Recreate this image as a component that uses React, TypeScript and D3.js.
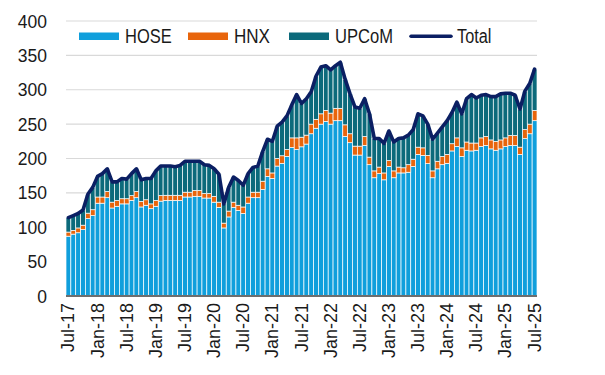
import React from "react";
import * as d3 from "d3";

const W = 605;
const H = 375;

// Monthly categories Jul-17 .. Jul-25
const categories: string[] = d3
  .timeMonth.range(new Date(2017, 6, 1), new Date(2025, 7, 1))
  .map((d) => d3.timeFormat("%b-%y")(d));

const tickLabels = [
  "Jul-17", "Jan-18", "Jul-18", "Jan-19", "Jul-19", "Jan-20", "Jul-20", "Jan-21", "Jul-21",
  "Jan-22", "Jul-22", "Jan-23", "Jul-23", "Jan-24", "Jul-24", "Jan-25", "Jul-25",
];

const yTicks = [0, 50, 100, 150, 200, 250, 300, 350, 400];

const hose = [
  87, 90, 92, 96.5, 112.5, 117, 135, 135, 143, 128, 130.5, 134, 134, 139, 143, 129.5, 132, 127, 130.5, 138,
  139, 139, 139, 139, 144, 144, 145, 145, 142.5, 142.5, 136.5, 129, 99, 115, 129, 124.5, 120, 135, 143, 143,
  155, 174, 171, 189, 193, 203, 216, 213, 217, 221, 236, 244, 250, 254, 250, 255, 255, 232, 223, 205,
  205, 219, 191, 172, 178, 169, 188.5, 172, 179, 179, 180, 188.5, 206, 204.5, 192.5, 172, 185, 191, 193, 211,
  217.5, 203, 212, 211, 212, 217.5, 219, 214, 212, 214, 217.5, 219, 219, 206, 229, 236, 255,
];

const hnx = [
  6, 5.5, 7, 6.5, 8, 8.5, 9, 9, 9, 8.5, 8.5, 7.5, 7.5, 7, 9, 8, 8, 7, 8.5, 8,
  7.5, 7.5, 7.5, 7.5, 7, 7, 8.5, 8.5, 6.5, 6.5, 8.5, 7.5, 7, 8.5, 7.5, 7.5, 9.5, 9, 8, 8,
  12, 11, 8, 11, 11, 10, 14, 17, 14, 13, 14, 13, 15, 16, 16, 18, 18, 17, 13, 13,
  13, 13, 11, 10, 9.5, 10, 8.5, 10, 8.5, 7.5, 11, 10.5, 10.5, 11, 12, 10, 11, 12, 13, 10.5,
  12.5, 12.5, 12, 11.5, 10.5, 12.5, 13, 13, 13, 13, 12.5, 14.5, 14.5, 10.5, 13, 14, 15,
];

const upcom = [
  21, 21.5, 21, 22, 27.5, 32.5, 30, 34, 33, 29.5, 27, 29.5, 28.5, 32, 33, 31.5, 31, 37, 43, 43,
  42.5, 42.5, 41.5, 43.5, 45, 45, 42.5, 42.5, 42, 41, 40, 40.5, 28, 34.5, 36.5, 36, 31.5, 34, 36, 38,
  43, 43, 46, 47, 49, 49, 48, 63, 49, 53, 47, 63, 68, 65, 63, 62, 67, 66, 58, 57,
  55, 55, 63, 47, 41.5, 43, 43, 42, 41.5, 43.5, 43, 43, 48.5, 46.5, 45.5, 46, 41, 43, 49, 45.5,
  52, 49.5, 63, 70.5, 65.5, 62, 61, 63, 65, 67, 65, 61.5, 58.5, 55.5, 56, 59, 60,
];

const total = [
  114, 117, 120, 125, 148, 158, 174, 178, 185, 166, 166, 171, 170, 178, 185, 169, 171, 171, 182, 189,
  189, 189, 188, 190, 196, 196, 196, 196, 191, 190, 185, 177, 134, 158, 173, 168, 161, 178, 187, 189,
  210, 228, 225, 247, 253, 262, 278, 293, 280, 287, 297, 320, 333, 335, 329, 335, 340, 315, 294, 275,
  273, 287, 265, 229, 229, 222, 240, 224, 229, 230, 234, 242, 265, 262, 250, 228, 237, 246, 255, 267,
  282, 265, 287, 293, 288, 292, 293, 290, 290, 294, 295, 295, 292, 272, 298, 309, 330,
];

const seriesNames = ["HOSE", "HNX", "UPCoM"];
const seriesColors = ["#109fdc", "#e8650c", "#0c6a7b"];
const totalColor = "#0b1f63";

const table = categories.map((c, i) => ({
  cat: c,
  HOSE: hose[i],
  HNX: hnx[i],
  UPCoM: upcom[i],
}));

const legendItems = [
  { name: "HOSE", color: seriesColors[0], kind: "rect", x: 79, tx: 125, tw: 46.7 },
  { name: "HNX", color: seriesColors[1], kind: "rect", x: 188, tx: 234, tw: 36 },
  { name: "UPCoM", color: seriesColors[2], kind: "rect", x: 289, tx: 335, tw: 58 },
  { name: "Total", color: totalColor, kind: "line", x: 409, tx: 457, tw: 34.4 },
];

export default function App() {
  const left = 66;
  const right = 537;
  const top = 21;
  const bottom = 296;

  const x = d3.scaleBand<string>().domain(categories).range([left, right]).paddingInner(0).paddingOuter(0);
  const y = d3.scaleLinear().domain([0, 400]).range([bottom, top]);

  const stack = d3.stack<any>().keys(seriesNames);
  const stacked = stack(table as any);

  const line = d3
    .line<number>()
    .x((_, i) => (x(categories[i]) as number) + x.bandwidth() / 2)
    .y((d) => y(d));

  const font = "'Liberation Sans', Arial, sans-serif";

  return (
    <svg
      width={W}
      height={H}
      style={{ position: "absolute", left: 0, top: 0, background: "#fff" }}
      fontFamily={font}
    >
      {/* gridlines */}
      {yTicks
        .filter((t) => t > 0)
        .map((t) => (
          <line key={t} x1={left} x2={right} y1={y(t)} y2={y(t)} stroke="#d9d9d9" strokeWidth={1.2} />
        ))}

      {/* bars */}
      {stacked.map((s, si) => (
        <g key={s.key} fill={seriesColors[si]}>
          {s.map((d, i) => (
            <rect
              key={i}
              x={x(categories[i])}
              width={x.bandwidth()}
              y={y(d[1])}
              height={Math.max(0, y(d[0]) - y(d[1]))}
              stroke="#ffffff"
              strokeWidth={0.7}
            />
          ))}
        </g>
      ))}

      {/* axis line */}
      <line x1={left} x2={right} y1={bottom} y2={bottom} stroke="#6e6e6e" strokeWidth={2} />

      {/* total line */}
      <path d={line(total) || ""} fill="none" stroke={totalColor} strokeWidth={3.6} strokeLinejoin="round" strokeLinecap="round" />

      {/* y tick labels */}
      {yTicks.map((t) => (
        <text key={t} x={47} y={y(t) + 6.5} textAnchor="end" fontSize={17.5} fill="#1a1a1a">
          {t}
        </text>
      ))}

      {/* x tick labels */}
      {tickLabels.map((lab) => {
        const cx = (x(lab) as number) + x.bandwidth() / 2;
        return (
          <text
            key={lab}
            transform={`translate(${cx},${303}) rotate(-90)`}
            textAnchor="end"
            dominantBaseline="central"
            fontSize={18}
            fill="#1a1a1a"
          >
            {lab}
          </text>
        );
      })}

      {/* legend */}
      {legendItems.map((it) => (
        <g key={it.name}>
          {it.kind === "rect" ? (
            <rect x={it.x} y={32.5} width={40} height={7.5} fill={it.color} />
          ) : (
            <line x1={it.x + 2} x2={it.x + 42} y1={36.3} y2={36.3} stroke={it.color} strokeWidth={3.5} strokeLinecap="round" />
          )}
          <text x={it.tx} y={42.7} fontSize={20} fill="#1a1a1a" textLength={it.tw} lengthAdjust="spacingAndGlyphs">
            {it.name}
          </text>
        </g>
      ))}
    </svg>
  );
}
